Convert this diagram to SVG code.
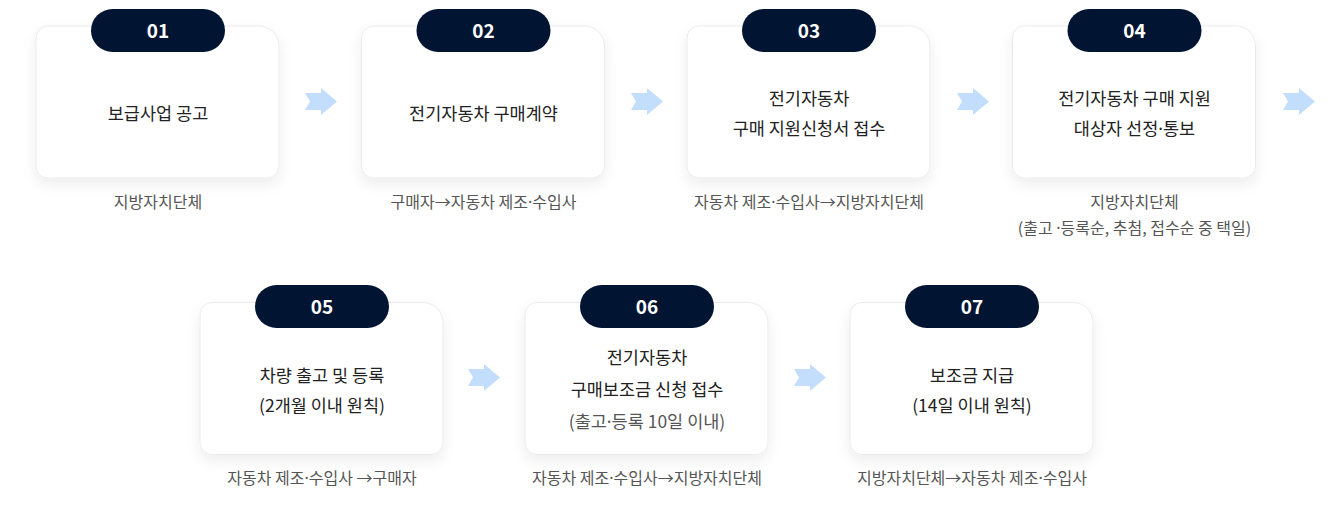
<svg xmlns="http://www.w3.org/2000/svg" width="1332" height="523" viewBox="0 0 1332 523">
<defs>
<style>
.card{fill:#fff;stroke:#ebebeb;stroke-width:1;filter:url(#sh)}
.pill{fill:#011533}
.num{font-family:"Noto Sans CJK KR","Noto Sans",sans-serif;font-size:19px;font-weight:700;fill:#fff;text-anchor:middle}
.main{font-family:"Noto Sans CJK KR","Noto Sans",sans-serif;font-size:17.5px;font-weight:400;fill:#222;text-anchor:middle}
.gray{fill:#555}
.sub{font-family:"Noto Sans CJK KR","Noto Sans",sans-serif;font-size:16px;fill:#555;text-anchor:middle}
.dot{font-family:"Noto Sans",sans-serif}
.arr{fill:#c3defc}
</style>
<filter id="sh" x="-20%" y="-20%" width="140%" height="150%">
<feDropShadow dx="0" dy="6" stdDeviation="7" flood-color="#000" flood-opacity="0.07"/>
</filter>
<path id="cardshape" d="M12,0 H223 A20,20 0 0 1 243,20 V140 A12,12 0 0 1 231,152 H12 A12,12 0 0 1 0,140 V12 A12,12 0 0 1 12,0 Z"/>
<path id="arrow" d="M0,5 L16,5 L16,0 L32,13.5 L16,27 L16,22 L0,22 L5,13.5 Z"/>
</defs>
<rect width="1332" height="523" fill="#fff"/>

<g id="connectors">
<use href="#arrow" class="arr" x="305" y="88"/>
<use href="#arrow" class="arr" x="631" y="88"/>
<use href="#arrow" class="arr" x="957" y="88"/>
<use href="#arrow" class="arr" x="1283" y="88"/>
<use href="#arrow" class="arr" x="468" y="364"/>
<use href="#arrow" class="arr" x="794" y="364"/>
</g>

<g id="step01">
<use href="#cardshape" class="card" x="36" y="26"/>
<rect class="pill" x="91" y="9" width="134" height="43" rx="21.5"/>
<text class="num" x="158" y="38">01</text>
<text class="main" x="158" y="120">보급사업 공고</text>
<text class="sub" x="158" y="208">지방자치단체</text>
</g>

<g id="step02">
<use href="#cardshape" class="card" x="361.5" y="26"/>
<rect class="pill" x="416.5" y="9" width="134" height="43" rx="21.5"/>
<text class="num" x="483.5" y="38">02</text>
<text class="main" x="483.5" y="120">전기자동차 구매계약</text>
<text class="sub" x="483.5" y="208">구매자→자동차 제조<tspan class="dot">·</tspan>수입사</text>
</g>

<g id="step03">
<use href="#cardshape" class="card" x="687" y="26"/>
<rect class="pill" x="742" y="9" width="134" height="43" rx="21.5"/>
<text class="num" x="809" y="38">03</text>
<text class="main" x="809" y="105">전기자동차</text>
<text class="main" x="809" y="135">구매 지원신청서 접수</text>
<text class="sub" x="809" y="208">자동차 제조<tspan class="dot">·</tspan>수입사→지방자치단체</text>
</g>

<g id="step04">
<use href="#cardshape" class="card" x="1012.5" y="26"/>
<rect class="pill" x="1067.5" y="9" width="134" height="43" rx="21.5"/>
<text class="num" x="1134.5" y="38">04</text>
<text class="main" x="1134.5" y="105">전기자동차 구매 지원</text>
<text class="main" x="1134.5" y="135">대상자 선정<tspan class="dot">·</tspan>통보</text>
<text class="sub" x="1134.5" y="208">지방자치단체</text>
<text class="sub" x="1134.5" y="234">(출고 <tspan class="dot">·</tspan>등록순, 추첨, 접수순 중 택일)</text>
</g>

<g id="step05">
<use href="#cardshape" class="card" x="200" y="302.5"/>
<rect class="pill" x="255" y="285" width="134" height="43" rx="21.5"/>
<text class="num" x="322" y="314">05</text>
<text class="main" x="322" y="382">차량 출고 및 등록</text>
<text class="main" x="322" y="412">(2개월 이내 원칙)</text>
<text class="sub" x="322" y="484">자동차 제조<tspan class="dot">·</tspan>수입사 →구매자</text>
</g>

<g id="step06">
<use href="#cardshape" class="card" x="525" y="302.5"/>
<rect class="pill" x="580" y="285" width="134" height="43" rx="21.5"/>
<text class="num" x="647" y="314">06</text>
<text class="main" x="647" y="364">전기자동차</text>
<text class="main" x="647" y="396">구매보조금 신청 접수</text>
<text class="main gray" x="647" y="428">(출고<tspan class="dot">·</tspan>등록 10일 이내)</text>
<text class="sub" x="647" y="484">자동차 제조<tspan class="dot">·</tspan>수입사→지방자치단체</text>
</g>

<g id="step07">
<use href="#cardshape" class="card" x="850" y="302.5"/>
<rect class="pill" x="905" y="285" width="134" height="43" rx="21.5"/>
<text class="num" x="972" y="314">07</text>
<text class="main" x="972" y="382">보조금 지급</text>
<text class="main" x="972" y="412">(14일 이내 원칙)</text>
<text class="sub" x="972" y="484">지방자치단체→자동차 제조<tspan class="dot">·</tspan>수입사</text>
</g>
</svg>
